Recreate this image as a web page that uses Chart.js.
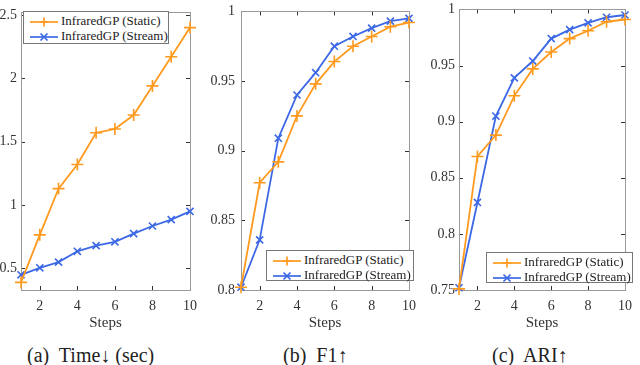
<!DOCTYPE html>
<html>
<head>
<meta charset="utf-8">
<script src="https://cdn.jsdelivr.net/npm/chart.js@4.4.0/dist/chart.umd.min.js"></script>
<style>
  body { margin: 0; background: #fff; }
  #wrap { position: relative; width: 640px; height: 365px; overflow: hidden; font-family: "Liberation Serif", serif; color: #222; }
  .panel { position: absolute; }
  .cap { position: absolute; top: 344px; font-size: 20px; white-space: pre; }
  .legend { position: absolute; border: 1px solid #777; background: #fff; font-size: 13px; box-sizing: border-box; padding: 1px 0 0 6px; color: #222; }
  .legend div { height: 15px; line-height: 15px; white-space: nowrap; }
  .legend svg { vertical-align: middle; margin-right: 3px; }
</style>
</head>
<body>
<div id="wrap">
  <canvas id="timeChart" class="panel" style="left:0px;top:0px;width:205px;height:332px;"></canvas>
  <canvas id="f1Chart" class="panel" style="left:211px;top:-3px;width:213px;height:335px;"></canvas>
  <canvas id="ariChart" class="panel" style="left:429px;top:-3px;width:211px;height:335px;"></canvas>

  <div class="legend" style="left:23px;top:11px;width:146px;height:33px;" id="legA"></div>
  <div class="legend" style="left:266px;top:250px;width:148px;height:31px;" id="legB"></div>
  <div class="legend" style="left:486px;top:252px;width:147px;height:31px;" id="legC"></div>

  <div class="cap" style="left:27px;">(a)  Time↓ (sec)</div>
  <div class="cap" style="left:283px;">(b)  F1↑</div>
  <div class="cap" style="left:492px;">(c)  ARI↑</div>
</div>
<script>
// data
const steps = [1, 2, 3, 4, 5, 6, 7, 8, 9, 10];
const stepTicks = [2, 4, 6, 8, 10];
const seriesNames = ['InfraredGP (Static)', 'InfraredGP (Stream)'];

const timeStatic = [0.39, 0.765, 1.13, 1.32, 1.57, 1.60, 1.71, 1.94, 2.17, 2.40];
const timeStream = [0.45, 0.505, 0.55, 0.635, 0.68, 0.71, 0.775, 0.835, 0.885, 0.95];
const timeTicks = [0.5, 1, 1.5, 2, 2.5];

const f1Static = [0.802, 0.877, 0.892, 0.925, 0.948, 0.964, 0.975, 0.982, 0.989, 0.992];
const f1Stream = [0.802, 0.836, 0.909, 0.940, 0.956, 0.975, 0.982, 0.988, 0.993, 0.995];
const f1Ticks = [0.8, 0.85, 0.9, 0.95, 1];

const ariStatic = [0.751, 0.869, 0.888, 0.923, 0.947, 0.962, 0.974, 0.981, 0.989, 0.991];
const ariStream = [0.752, 0.828, 0.905, 0.939, 0.954, 0.974, 0.982, 0.988, 0.993, 0.995];
const ariTicks = [0.75, 0.8, 0.85, 0.9, 0.95, 1];

const orange = '#ff9a1f';
const blue = '#3c68e6';
const serif = '"Liberation Serif", serif';
const tickFont = { family: serif, size: 14 };

// box around the plot with small inward tick marks, like matlab axes
const boxPlugin = {
    id: 'box',
    beforeDatasetsDraw(chart) {
        const ctx = chart.ctx;
        const a = chart.chartArea;
        const xs = chart.scales.x, ys = chart.scales.y;
        ctx.save();
        ctx.strokeStyle = '#333';
        ctx.lineWidth = 1;
        ctx.beginPath();
        xs.ticks.forEach(t => {
            const px = Math.round(xs.getPixelForValue(t.value)) + 0.5;
            ctx.moveTo(px, a.bottom); ctx.lineTo(px, a.bottom - 4);
            ctx.moveTo(px, a.top); ctx.lineTo(px, a.top + 4);
        });
        ys.ticks.forEach(t => {
            const py = Math.round(ys.getPixelForValue(t.value)) + 0.5;
            ctx.moveTo(a.left, py); ctx.lineTo(a.left + 4, py);
            ctx.moveTo(a.right, py); ctx.lineTo(a.right - 4, py);
        });
        ctx.stroke();
        ctx.strokeStyle = '#999';
        ctx.strokeRect(Math.round(a.left) + 0.5, Math.round(a.top) + 0.5,
            Math.round(a.right - a.left), Math.round(a.bottom - a.top));
        ctx.restore();
    }
};

function makeChart(id, staticVals, streamVals, yTicks, yMin, yMax, yWidth, yPad, padRight) {
    return new Chart(document.getElementById(id), {
        type: 'line',
        data: {
            datasets: [{
                label: seriesNames[0],
                data: steps.map((s, i) => ({ x: s, y: staticVals[i] })),
                borderColor: orange,
                backgroundColor: orange,
                borderWidth: 1.8,
                pointStyle: 'cross',
                pointRadius: 6,
                pointBorderWidth: 1.6,
                clip: false
            }, {
                label: seriesNames[1],
                data: steps.map((s, i) => ({ x: s, y: streamVals[i] })),
                borderColor: blue,
                backgroundColor: blue,
                borderWidth: 1.8,
                pointStyle: 'crossRot',
                pointRadius: 5,
                pointBorderWidth: 1.6,
                clip: false
            }]
        },
        options: {
            responsive: false,
            animation: false,
            layout: { padding: { top: 5, right: padRight, left: 0, bottom: 0 } },
            plugins: { legend: { display: false }, tooltip: { enabled: false } },
            scales: {
                x: {
                    type: 'linear',
                    min: 1, max: 10,
                    afterBuildTicks: s => { s.ticks = stepTicks.map(v => ({ value: v })); },
                    afterFit: s => { s.height = 42; },
                    grid: { display: false, drawTicks: false },
                    border: { display: false },
                    ticks: { font: tickFont, color: '#333', padding: 8 },
                    title: { display: true, text: 'Steps', font: { family: serif, size: 15 }, color: '#333', padding: { top: 0, bottom: 0 } }
                },
                y: {
                    min: yMin, max: yMax,
                    afterBuildTicks: s => { s.ticks = yTicks.map(v => ({ value: v })); },
                    afterFit: s => { s.width = yWidth; },
                    grid: { display: false, drawTicks: false },
                    border: { display: false },
                    ticks: { font: tickFont, color: '#333', padding: yPad, callback: v => String(v) }
                }
            }
        },
        plugins: [boxPlugin]
    });
}

function setSize(id) {
    const c = document.getElementById(id);
    c.width = parseInt(c.style.width);
    c.height = parseInt(c.style.height);
}
['timeChart', 'f1Chart', 'ariChart'].forEach(setSize);

makeChart('timeChart', timeStatic, timeStream, timeTicks, 0.33, 2.52, 21, 4, 10);
makeChart('f1Chart', f1Static, f1Stream, f1Ticks, 0.8, 1, 30, 6, 10);
makeChart('ariChart', ariStatic, ariStream, ariTicks, 0.75, 1, 30, 4, 7);

// html legends
function sample(color, plus) {
    const m = plus
        ? '<path d="M14 1.5 V10.5 M9.5 6 H18.5" />'
        : '<path d="M10.5 2.5 L17.5 9.5 M17.5 2.5 L10.5 9.5" />';
    return '<svg width="28" height="12"><g stroke="' + color + '" stroke-width="1.7" fill="none">' +
        '<path d="M0 6 H28" />' + m + '</g></svg>';
}
['legA', 'legB', 'legC'].forEach(id => {
    document.getElementById(id).innerHTML =
        '<div>' + sample(orange, true) + seriesNames[0] + '</div>' +
        '<div>' + sample(blue, false) + seriesNames[1] + '</div>';
});
</script>
</body>
</html>
